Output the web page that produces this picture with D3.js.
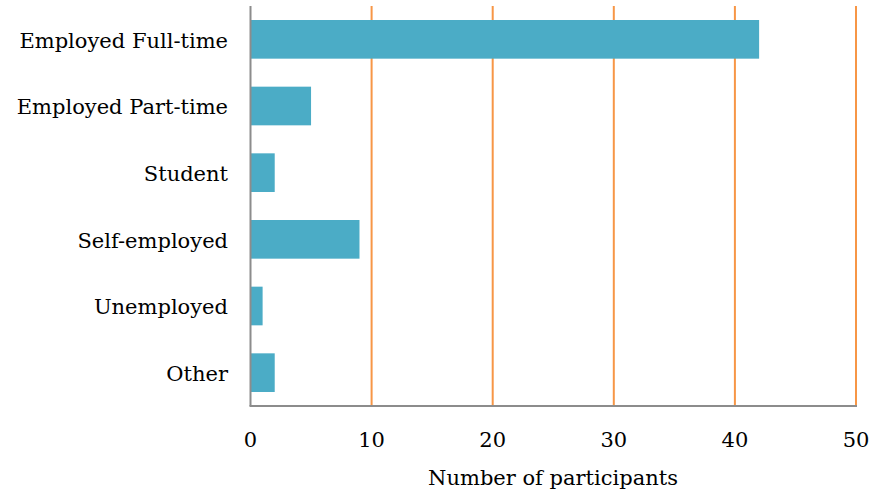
<!DOCTYPE html>
<html><head><meta charset="utf-8">
<script src="https://cdn.jsdelivr.net/npm/d3@7"></script>
<style>body{margin:0;background:#fff}</style>
</head><body><svg id="c" width="875" height="499"></svg>
<script>
const categories = ["Employed Full-time","Employed Part-time","Student","Self-employed","Unemployed","Other"];
const values = [42,5,2,9,1,2];
const xTicks = [0,10,20,30,40,50];
const xTitle = "Number of participants";

const svg = d3.select("#c").style("font-family","'DejaVu Serif', serif");
const m = {left:250.5, right:856, top:6, bottom:406};
const x = d3.scaleLinear().domain([0,50]).range([m.left,m.right]);
const y = d3.scaleBand().domain(categories).range([m.top,m.bottom]).paddingInner(0.42).paddingOuter(0.21);

svg.append("g").selectAll("line").data(xTicks.filter(d=>d>0)).join("line")
  .attr("x1",d=>x(d)).attr("x2",d=>x(d)).attr("y1",m.top).attr("y2",m.bottom)
  .attr("stroke","#f79646").attr("stroke-width",2);

svg.append("g").selectAll("rect").data(categories).join("rect")
  .attr("x",x(0)).attr("y",d=>y(d)).attr("height",y.bandwidth())
  .attr("width",(d,i)=>x(values[i])-x(0)).attr("fill","#4bacc6");

svg.append("line").attr("x1",m.left).attr("x2",m.left).attr("y1",m.top).attr("y2",m.bottom).attr("stroke","#8c8c8c").attr("stroke-width",2);
svg.append("line").attr("x1",m.left-1).attr("x2",m.right+1).attr("y1",m.bottom).attr("y2",m.bottom).attr("stroke","#8c8c8c").attr("stroke-width",2);

svg.append("g").selectAll("text").data(categories).join("text")
  .attr("x",228).attr("y",d=>y(d)+y.bandwidth()/2).attr("dy","0.4em")
  .attr("text-anchor","end").attr("font-size",21).attr("fill","#000").text(d=>d);

svg.append("g").selectAll("text").data(xTicks).join("text")
  .attr("x",d=>x(d)).attr("y",447).attr("text-anchor","middle").attr("font-size",21).attr("fill","#000").text(d=>d);

svg.append("text").attr("x",553).attr("y",485).attr("text-anchor","middle").attr("font-size",21).attr("fill","#000").text(xTitle);
</script></body></html>
